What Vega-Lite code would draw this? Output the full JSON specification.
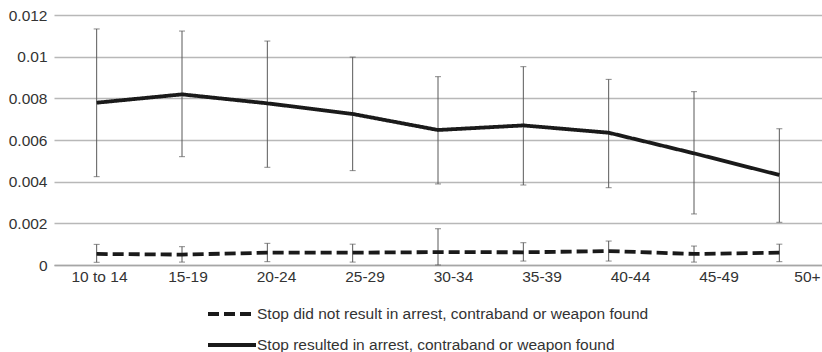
{
  "$schema": "https://vega.github.io/schema/vega-lite/v6.json",
  "width": 768,
  "height": 250,
  "autosize": {"type": "none"},
  "padding": {"left": 54, "top": 15, "right": 0, "bottom": 87},
  "background": "white",
  "config": {
    "view": {"stroke": null},
    "font": "Liberation Sans",
    "axis": {"labelFont": "Liberation Sans", "labelFontSize": 15.5, "labelColor": "#333333"},
    "legend": {"labelFont": "Liberation Sans", "labelFontSize": 15.5, "labelColor": "#333333"}
  },
  "data": {
    "values": [
      {"age": "10 to 14", "group": "Stop resulted in arrest, contraband or weapon found", "value": 0.00779, "lo": 0.00424, "hi": 0.01133},
      {"age": "15-19", "group": "Stop resulted in arrest, contraband or weapon found", "value": 0.00819, "lo": 0.0052, "hi": 0.01123},
      {"age": "20-24", "group": "Stop resulted in arrest, contraband or weapon found", "value": 0.00776, "lo": 0.00469, "hi": 0.01075},
      {"age": "25-29", "group": "Stop resulted in arrest, contraband or weapon found", "value": 0.00725, "lo": 0.00453, "hi": 0.00998},
      {"age": "30-34", "group": "Stop resulted in arrest, contraband or weapon found", "value": 0.00648, "lo": 0.00389, "hi": 0.00904},
      {"age": "35-39", "group": "Stop resulted in arrest, contraband or weapon found", "value": 0.0067, "lo": 0.00384, "hi": 0.00952},
      {"age": "40-44", "group": "Stop resulted in arrest, contraband or weapon found", "value": 0.00635, "lo": 0.00371, "hi": 0.00891},
      {"age": "45-49", "group": "Stop resulted in arrest, contraband or weapon found", "value": 0.00536, "lo": 0.00245, "hi": 0.00832},
      {"age": "50+", "group": "Stop resulted in arrest, contraband or weapon found", "value": 0.00432, "lo": 0.00205, "hi": 0.00654},
      {"age": "10 to 14", "group": "Stop did not result in arrest, contraband or weapon found", "value": 0.00053, "lo": 0.00013, "hi": 0.00099},
      {"age": "15-19", "group": "Stop did not result in arrest, contraband or weapon found", "value": 0.0005, "lo": 0.00014, "hi": 0.00088},
      {"age": "20-24", "group": "Stop did not result in arrest, contraband or weapon found", "value": 0.00059, "lo": 0.00016, "hi": 0.00104},
      {"age": "25-29", "group": "Stop did not result in arrest, contraband or weapon found", "value": 0.00059, "lo": 0.00014, "hi": 0.001},
      {"age": "30-34", "group": "Stop did not result in arrest, contraband or weapon found", "value": 0.00062, "lo": 0.0, "hi": 0.00174},
      {"age": "35-39", "group": "Stop did not result in arrest, contraband or weapon found", "value": 0.00061, "lo": 0.00019, "hi": 0.00107},
      {"age": "40-44", "group": "Stop did not result in arrest, contraband or weapon found", "value": 0.00067, "lo": 0.00019, "hi": 0.00115},
      {"age": "45-49", "group": "Stop did not result in arrest, contraband or weapon found", "value": 0.00053, "lo": 0.00014, "hi": 0.00091},
      {"age": "50+", "group": "Stop did not result in arrest, contraband or weapon found", "value": 0.00059, "lo": 0.00016, "hi": 0.001}
    ]
  },
  "layer": [
    {
      "encoding": {
        "x": {"field": "age", "type": "ordinal", "sort": null, "scale": {"type": "point", "padding": 0.5}, "axis": null}
      },
      "layer": [
        {
          "mark": {"type": "rule", "color": "#595959", "strokeWidth": 1},
          "encoding": {
            "y": {"field": "lo", "type": "quantitative", "scale": {"domain": [0, 0.012], "nice": false},
              "axis": {"values": [0, 0.002, 0.004, 0.006, 0.008, 0.01, 0.012], "format": "~f", "title": null, "domain": false, "ticks": false, "labelPadding": 7, "gridColor": "#b8b8b8", "gridWidth": 1.3}},
            "y2": {"field": "hi"}
          }
        },
        {
          "mark": {"type": "tick", "color": "#595959", "thickness": 1, "size": 6},
          "encoding": {"y": {"field": "lo", "type": "quantitative"}}
        },
        {
          "mark": {"type": "tick", "color": "#595959", "thickness": 1, "size": 6},
          "encoding": {"y": {"field": "hi", "type": "quantitative"}}
        },
        {
          "mark": {"type": "line", "color": "#1a1a1a", "strokeWidth": 3.8},
          "encoding": {
            "y": {"field": "value", "type": "quantitative"},
            "detail": {"field": "group"},
            "strokeDash": {
              "field": "group", "type": "nominal",
              "scale": {"domain": ["Stop did not result in arrest, contraband or weapon found", "Stop resulted in arrest, contraband or weapon found"], "range": [[11, 5], [1, 0]]},
              "legend": {"title": null, "orient": "none", "legendX": 164, "legendY": 285, "direction": "vertical", "symbolType": "M-2,0H2", "symbolSize": 576, "symbolStrokeWidth": 3.8, "symbolStrokeColor": "#1a1a1a", "symbolFillColor": "transparent", "rowPadding": 8, "labelOffset": 11, "labelLimit": 600}
            }
          }
        }
      ]
    },
    {
      "mark": {"type": "point", "opacity": 0},
      "encoding": {
        "x": {"field": "age", "type": "ordinal", "sort": null,
          "scale": {"type": "point", "padding": 0.339, "align": 0.75},
          "axis": {"orient": "bottom", "title": null, "labelAngle": 0, "ticks": false, "domainColor": "#a6a6a6", "domainWidth": 1.6, "labelPadding": 4, "grid": false}}
      }
    }
  ],
  "resolve": {"scale": {"x": "independent"}, "axis": {"x": "independent"}}
}
